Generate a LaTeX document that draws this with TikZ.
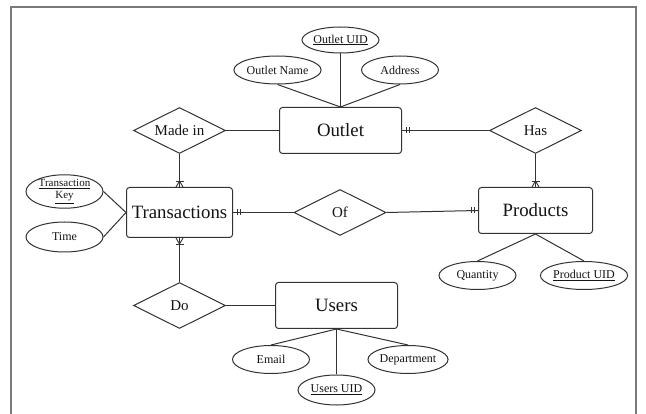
\documentclass[tikz,border=0pt]{standalone}
\usepackage{fontspec}
\setmainfont{Liberation Serif}
\usetikzlibrary{shapes.geometric,calc}

\definecolor{inkline}{HTML}{333333}
\definecolor{inktext}{HTML}{141414}
\definecolor{frameline}{HTML}{7A7A7A}

\tikzset{
  entity/.style={draw=inkline, line width=1pt, rounded corners=3pt,
    minimum width=#1, minimum height=46pt, inner sep=0pt,
    text=inktext, font=\fontsize{18.8}{20}\selectfont},
  entity/.default=120pt,
  relation/.style={draw=inkline, line width=1pt, diamond, aspect=2,
    minimum width=92pt, minimum height=46pt, inner sep=0pt,
    text=inktext, font=\fontsize{15}{17}\selectfont},
  attribute/.style={draw=inkline, line width=1pt, ellipse,
    minimum width=77pt, minimum height=28pt, inner sep=0pt,
    text=inktext, font=\fontsize{12}{14}\selectfont, align=center},
  link/.style={draw=inkline, line width=1pt},
  tick/.style={draw=inkline, line width=0.9pt}
}

\begin{document}
\begin{tikzpicture}[x=1pt, y=-1pt]
  \useasboundingbox[fill=white] (0,0) rectangle (646,414);

  % page frame
  \draw[frameline, line width=1.6pt] (11,418) -- (11,7) -- (636,7) -- (636,418);

  % entities
  \node[entity=122pt] (outlet) at (340.5,130.5) {Outlet};
  \node[entity=106pt, minimum height=50pt] (trans) at (179.5,212.5) {Transactions};
  \node[entity=114pt] (prod) at (535.5,210.5) {Products};
  \node[entity=122pt] (users) at (336.5,305.5) {Users};

  % relationships
  \node[relation] (madein) at (179.5,130.5) {Made in};
  \node[relation] (has) at (535.5,130.5) {Has};
  \node[relation] (of) at (340,212.5) {Of};
  \node[relation] (do) at (179.5,305.5) {Do};

  % attributes
  \node[attribute] (oname) at (277.5,70) {Outlet Name};
  \node[attribute, minimum height=26pt] (ouid) at (340.5,40) {\underline{Outlet UID}};
  \node[attribute] (oaddr) at (400,70) {Address};
  \node[attribute, font=\fontsize{11}{14}\selectfont, minimum height=27pt]
    (tkey) at (64.5,191.5) {\underline{Transaction}\\[-2pt]\underline{Key}};
  \node[attribute, minimum height=30pt] (ttime) at (64.5,237) {Time};
  \node[attribute] (pqty) at (477.5,275.5) {Quantity};
  \node[attribute] (puid) at (584,275.5) {\underline{Product UID}};
  \node[attribute] (uemail) at (271,359.5) {Email};
  \node[attribute] (udept) at (408,359.5) {Department};
  \node[attribute, minimum height=30pt] (uuid) at (336.5,390) {\underline{Users UID}};

  % attribute links
  \draw[link] (oname.south) -- (outlet.north);
  \draw[link] (ouid.south) -- (outlet.north);
  \draw[link] (oaddr.south) -- (outlet.north);
  \draw[link] (tkey.east) -- (trans.west);
  \draw[link] (ttime.east) -- (trans.west);
  \draw[link] (prod.south) -- (pqty.north);
  \draw[link] (prod.south) -- (puid.north);
  \draw[link] (users.south) -- (uemail.north);
  \draw[link] (users.south) -- (udept.north);
  \draw[link] (users.south) -- (uuid.north);

  % relationship links
  \draw[link] (madein.east) -- (outlet.west);
  \draw[link] (madein.south) -- (trans.north);
  \draw[link] (outlet.east) -- (has.west);
  \draw[link] (has.south) -- (prod.north);
  \draw[link] (trans.east) -- (of.west);
  \draw[link] (of.east) -- (prod.west);
  \draw[link] (trans.south) -- (do.north);
  \draw[link] (do.east) -- (users.west);

  % one-or-many ends (bar plus crow's foot)
  \draw[tick] ($(trans.north)+(-3.5,0)$) -- ($(trans.north)+(0,-6)$) -- ($(trans.north)+(3.5,0)$);
  \draw[tick] ($(trans.north)+(-4,-6)$) -- ($(trans.north)+(4,-6)$);
  \draw[tick] ($(trans.south)+(-3.5,0)$) -- ($(trans.south)+(0,6)$) -- ($(trans.south)+(3.5,0)$);
  \draw[tick] ($(trans.south)+(-4,6)$) -- ($(trans.south)+(4,6)$);
  \draw[tick] ($(prod.north)+(-3.5,0)$) -- ($(prod.north)+(0,-6)$) -- ($(prod.north)+(3.5,0)$);
  \draw[tick] ($(prod.north)+(-4,-6)$) -- ($(prod.north)+(4,-6)$);

  % exactly-one ends (double bar)
  \foreach \dx in {4,7} {
    \draw[tick] ($(trans.east)+(\dx,-3)$) -- ($(trans.east)+(\dx,3)$);
    \draw[tick] ($(outlet.east)+(\dx,-3)$) -- ($(outlet.east)+(\dx,3)$);
    \draw[tick] ($(prod.west)+(-\dx,-3)$) -- ($(prod.west)+(-\dx,3)$);
  }
\end{tikzpicture}
\end{document}
